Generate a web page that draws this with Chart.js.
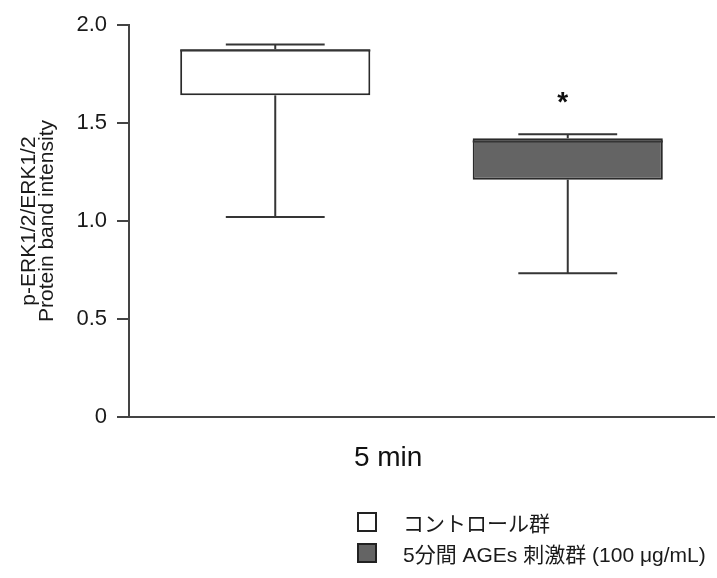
<!DOCTYPE html>
<html>
<head>
<meta charset="utf-8">
<script src="https://cdn.jsdelivr.net/npm/chart.js@4.4.1/dist/chart.umd.min.js"></script>
<style>
  html, body { margin: 0; padding: 0; background: #fff; }
  #wrap { position: relative; width: 717px; height: 578px; }
  #legend { position: absolute; left: 357px; top: 506px; font: 21px "Liberation Sans", "Noto Sans CJK JP", sans-serif; color: #1a1a1a; }
  #legend .item { display: flex; align-items: center; height: 31px; }
  #legend .box { width: 16px; height: 16px; border: 2px solid #222; margin-right: 26px; }
</style>
</head>
<body>
<div id="wrap">
  <canvas id="chart" width="717" height="578"></canvas>
  <div id="legend"></div>
</div>
<script>
const groups = ['コントロール群', '5分間 AGEs 刺激群 (100 μg/mL)'];
const minV = [1.020, 0.734];
const q1 = [1.641, 1.211];
const median = [1.870, 1.405];
const q3 = [1.876, 1.422];
const maxV = [1.901, 1.442];
const fills = ['#ffffff', '#646464'];
const marks = ['', '*'];
const yTicks = [0, 0.5, 1.0, 1.5, 2.0];
const xTitle = '5 min';

// whiskers, median, significance mark and x title
const boxWhiskers = {
  id: 'boxWhiskers',
  afterDatasetsDraw(chart) {
    const { ctx, chartArea, scales: { y } } = chart;
    ctx.save();
    ctx.strokeStyle = '#353535';
    ctx.lineWidth = 2;
    const line = (x1, y1, x2, y2) => {
      ctx.beginPath(); ctx.moveTo(x1, y1); ctx.lineTo(x2, y2); ctx.stroke();
    };
    groups.forEach((g, i) => {
      const bar = chart.getDatasetMeta(i).data[i];
      const cx = bar.x;
      const half = bar.width / 2;
      const cap = bar.width * 0.26;
      const yMax = y.getPixelForValue(maxV[i]);
      const yMin = y.getPixelForValue(minV[i]);
      line(cx, y.getPixelForValue(q3[i]), cx, yMax);
      line(cx - cap, yMax, cx + cap, yMax);
      line(cx, y.getPixelForValue(q1[i]), cx, yMin);
      line(cx - cap, yMin, cx + cap, yMin);
      line(cx - half, y.getPixelForValue(median[i]), cx + half, y.getPixelForValue(median[i]));
      if (marks[i]) {
        ctx.fillStyle = '#111';
        ctx.font = 'bold 28px "Liberation Sans", Arial, sans-serif';
        ctx.textAlign = 'center';
        ctx.textBaseline = 'alphabetic';
        ctx.fillText(marks[i], cx - 5, yMax - 23);
      }
    });
    ctx.fillStyle = '#111';
    ctx.font = '28px "Liberation Sans", Arial, sans-serif';
    ctx.textAlign = 'center';
    ctx.textBaseline = 'middle';
    ctx.fillText(xTitle, chartArea.left + (chartArea.right - chartArea.left) * 0.443, chartArea.bottom + 41);
    ctx.restore();
  }
};

const htmlLegend = {
  id: 'htmlLegend',
  afterUpdate(chart) {
    const el = document.getElementById('legend');
    el.innerHTML = '';
    chart.data.datasets.forEach(ds => {
      const item = document.createElement('div');
      item.className = 'item';
      const box = document.createElement('span');
      box.className = 'box';
      box.style.background = ds.backgroundColor;
      const txt = document.createElement('span');
      txt.textContent = ds.label;
      item.appendChild(box);
      item.appendChild(txt);
      el.appendChild(item);
    });
  }
};

const ctx = document.getElementById('chart').getContext('2d');
new Chart(ctx, {
  type: 'bar',
  data: {
    labels: groups,
    datasets: groups.map((g, i) => ({
      label: g,
      data: groups.map((_, j) => (j === i ? [q1[i], q3[i]] : null)),
      backgroundColor: fills[i],
      borderColor: '#2a2a2a',
      borderWidth: 2,
      borderSkipped: false,
      grouped: false,
      barPercentage: 0.65,
      categoryPercentage: 1
    }))
  },
  options: {
    responsive: false,
    animation: false,
    layout: { padding: { left: 0, top: 25, right: 3, bottom: 153 } },
    plugins: { legend: { display: false }, tooltip: { enabled: false } },
    scales: {
      x: {
        ticks: { display: false },
        grid: { display: false },
        border: { display: true, color: '#444', width: 2 }
      },
      y: {
        min: 0,
        max: 2,
        afterBuildTicks: scale => { scale.ticks = yTicks.map(v => ({ value: v })); },
        afterFit: scale => { scale.width = 129; },
        ticks: {
          color: '#1a1a1a',
          padding: 10,
          font: { family: '"Liberation Sans", Arial, sans-serif', size: 22 },
          callback: v => (v === 0 ? '0' : v.toFixed(1))
        },
        grid: { drawOnChartArea: false, drawTicks: true, tickLength: 12, color: '#444', lineWidth: 2 },
        border: { display: true, color: '#444', width: 2 },
        title: {
          display: true,
          text: ['p-ERK1/2/ERK1/2', 'Protein band intensity'],
          color: '#1a1a1a',
          font: { family: '"Liberation Sans", Arial, sans-serif', size: 21, lineHeight: 0.82 },
          padding: { top: 21, bottom: 0 }
        }
      }
    }
  },
  plugins: [boxWhiskers, htmlLegend]
});
</script>
</body>
</html>
